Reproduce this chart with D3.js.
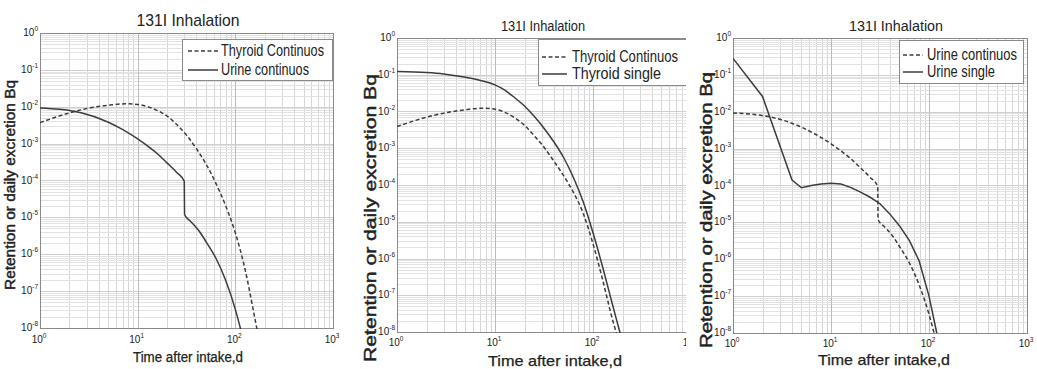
<!DOCTYPE html>
<html><head><meta charset="utf-8">
<script src="https://cdn.jsdelivr.net/npm/d3@7"></script>
<style>
html,body{margin:0;padding:0;background:#fff;}
svg{display:block;}
text{font-family:"Liberation Sans",Arial,sans-serif;fill:#222;}
</style></head>
<body>
<svg id="chart" width="1037" height="369"></svg>
<script>
// ---------- data ----------
const titleText = "131I Inhalation";
const xLabelText = "Time after intake,d";
const yLabelText = "Retention or daily excretion Bq";
const xTickValues = [1, 10, 100, 1000];
const xTickExponents = ["0", "1", "2", "3"];
const yTickValues = [1, 1e-1, 1e-2, 1e-3, 1e-4, 1e-5, 1e-6, 1e-7, 1e-8];
const yTickExponents = ["0", "-1", "-2", "-3", "-4", "-5", "-6", "-7", "-8"];

// Thyroid, continuous intake (panel 1)
const thyroidContinuousP1 = [[1,3.7e-3],[2,6.8e-3],[3,8.9e-3],[5,1.1e-2],[7.5,1.2e-2],[10,1.15e-2],[15,8.5e-3],[20,5.6e-3],[25.1,3.3e-3],[31.6,1.7e-3],[39.8,7.4e-4],[50.1,2.8e-4],[63.1,8.5e-5],[79.4,2.1e-5],[100,3.8e-6],[126,3.8e-7],[158,1.9e-8],[170,7e-9]];
// Thyroid, continuous intake (panel 2)
const thyroidContinuousP2 = [[1,3.9e-3],[2,7e-3],[3,9e-3],[5,1.12e-2],[7.5,1.23e-2],[10,1.15e-2],[12.6,9.5e-3],[15.8,6.8e-3],[20,4.2e-3],[25.1,2.2e-3],[31.6,1.07e-3],[39.8,4.5e-4],[50.1,1.8e-4],[63.1,6.3e-5],[79.4,1.7e-5],[100,2.5e-6],[126,2.5e-7],[158,2.2e-8],[174,9e-9]];
// Thyroid, single intake (panel 2)
const thyroidSingleP2 = [[1,0.123],[2,0.115],[3,0.105],[5,0.085],[7.1,0.07],[10,0.053],[12.6,0.038],[15.8,0.024],[20,1.41e-2],[25.1,7.4e-3],[31.6,3.5e-3],[39.8,1.5e-3],[50.1,5.6e-4],[63.1,1.6e-4],[79.4,3.5e-5],[100,5e-6],[126,5.6e-7],[158,5.6e-8],[186,1.1e-8],[195,7e-9]];
// Urine, continuous intake (panels 1 & 3)
const urineContinuous = [[1,9.3e-3],[1.585,8.5e-3],[2.29,7.4e-3],[3.16,6e-3],[3.98,4.9e-3],[5.01,3.8e-3],[6.31,2.8e-3],[7.94,2e-3],[10,1.35e-3],[12.6,8.7e-4],[15.8,5.4e-4],[20,3e-4],[25.1,1.66e-4],[30,9.5e-5],[30.2,1.2e-5],[35.5,7.4e-6],[42.7,4.2e-6],[50.1,2.2e-6],[63.1,7.9e-7],[79.4,2e-7],[100,3.2e-8],[115,8e-9]];
// Urine, single intake (panel 3)
const urineSingleP3 = [[1,0.28],[2,2.6e-2],[4,1.4e-4],[5,8.7e-5],[6.3,1e-4],[7.9,1.1e-4],[10,1.15e-4],[12.6,1.1e-4],[15.8,8.9e-5],[20,6.6e-5],[25.1,4.8e-5],[31.6,3.2e-5],[39.8,1.7e-5],[50.1,8e-6],[63.1,3.2e-6],[79.4,9e-7],[100,1e-7],[120,1e-8]];

const legendP1 = ["Thyroid Continuos", "Urine continuos"];
const legendP2 = ["Thyroid Continuos", "Thyroid single"];
const legendP3 = ["Urine continuos", "Urine single"];

// ---------- drawing ----------
const svg = d3.select("#chart");
const defs = svg.append("defs");
let clipId = 0;
const INK = "#3c3c3c";
const DASH = "4,2.5";

function drawPanel(cfg) {
  const g = svg.append("g");
  if (cfg.clipRight) {
    const id = "pclip" + (clipId++);
    defs.append("clipPath").attr("id", id).append("rect")
      .attr("x", cfg.clipLeft).attr("y", 0).attr("width", cfg.clipRight - cfg.clipLeft).attr("height", 369);
    g.attr("clip-path", `url(#${id})`);
  }
  const x = d3.scaleLog().domain([1, 1000]).range([cfg.left, cfg.right]);
  const y = d3.scaleLog().domain([1e-8, 1]).range([cfg.bottom, cfg.top]);

  g.append("rect").attr("x", cfg.left).attr("y", cfg.top)
    .attr("width", cfg.right - cfg.left).attr("height", cfg.bottom - cfg.top).attr("fill", "#fff");

  // grid
  const minorX = [], minorY = [];
  for (let e = 0; e < 3; e++) for (let k = 2; k <= 9; k++) minorX.push(k * Math.pow(10, e));
  for (let e = -8; e < 0; e++) for (let k = 2; k <= 9; k++) minorY.push(k * Math.pow(10, e));
  const grid = g.append("g");
  grid.selectAll(".mx").data(minorX).join("line")
    .attr("x1", d => Math.round(x(d)) + 0.5).attr("x2", d => Math.round(x(d)) + 0.5).attr("y1", cfg.top).attr("y2", cfg.bottom)
    .attr("stroke", "#d6d6d6").attr("stroke-width", 1);
  grid.selectAll(".my").data(minorY).join("line")
    .attr("y1", d => Math.round(y(d)) + 0.5).attr("y2", d => Math.round(y(d)) + 0.5).attr("x1", cfg.left).attr("x2", cfg.right)
    .attr("stroke", "#e2e2e2").attr("stroke-width", 1);
  grid.selectAll(".Mx").data(xTickValues).join("line")
    .attr("x1", d => Math.round(x(d)) + 0.5).attr("x2", d => Math.round(x(d)) + 0.5).attr("y1", cfg.top).attr("y2", cfg.bottom)
    .attr("stroke", "#bcbcbc").attr("stroke-width", 1);
  grid.selectAll(".My").data(yTickValues).join("line")
    .attr("y1", d => Math.round(y(d)) + 0.5).attr("y2", d => Math.round(y(d)) + 0.5).attr("x1", cfg.left).attr("x2", cfg.right)
    .attr("stroke", "#cfcfcf").attr("stroke-width", 1);

  g.append("rect").attr("x", cfg.left + 0.5).attr("y", cfg.top + 0.5)
    .attr("width", cfg.right - cfg.left).attr("height", cfg.bottom - cfg.top)
    .attr("fill", "none").attr("stroke", "#8a8a8a").attr("stroke-width", 1);

  // tick labels
  const xt = g.append("g");
  xTickValues.forEach((v, i) => {
    const t = xt.append("text").attr("x", x(v) - 1).attr("y", cfg.bottom + cfg.xtickDy)
      .attr("text-anchor", "middle").attr("font-size", 10);
    t.append("tspan").text("10");
    t.append("tspan").attr("dy", -5).attr("font-size", 6.5).text(xTickExponents[i]);
  });
  yTickValues.forEach((v, i) => {
    const t = xt.append("text").attr("x", cfg.left - 2).attr("y", y(v) + 3)
      .attr("text-anchor", "end").attr("font-size", 10);
    t.append("tspan").text("10");
    t.append("tspan").attr("dy", -5).attr("font-size", 6.5).text(yTickExponents[i]);
  });

  // series
  const id2 = "sclip" + (clipId++);
  defs.append("clipPath").attr("id", id2).append("rect")
    .attr("x", cfg.left).attr("y", cfg.top).attr("width", cfg.right - cfg.left).attr("height", cfg.bottom - cfg.top + 1);
  const sg = g.append("g").attr("clip-path", `url(#${id2})`);
  cfg.series.forEach(s => {
    const line = d3.line().x(d => x(d[0])).y(d => y(d[1])).curve(s.curve || d3.curveMonotoneX);
    sg.append("path").datum(s.data).attr("d", line).attr("fill", "none")
      .attr("stroke", INK).attr("stroke-width", 1.5)
      .attr("stroke-dasharray", s.dashed ? DASH : null);
  });

  // legend
  const L = cfg.legend;
  const lg = g.append("g");
  lg.append("rect").attr("x", L.x + 0.5).attr("y", L.y + 0.5).attr("width", L.w).attr("height", L.h)
    .attr("fill", "#fff").attr("stroke", "#8a8a8a").attr("stroke-width", 1);
  cfg.series.forEach((s, i) => {
    const yy = L.y + L.row0 + i * L.rowGap;
    lg.append("line").attr("x1", L.x + L.lx0).attr("x2", L.x + L.lx1).attr("y1", yy).attr("y2", yy)
      .attr("stroke", INK).attr("stroke-width", 1.5).attr("stroke-dasharray", s.dashed ? DASH : null);
    lg.append("text").attr("x", L.x + L.tx).attr("y", yy + 5).attr("font-size", L.fs)
      .attr("textLength", L.lens[i]).attr("lengthAdjust", "spacingAndGlyphs").text(s.label);
  });

  // titles & axis labels
  g.append("text").attr("x", cfg.titleX).attr("y", cfg.titleY).attr("text-anchor", "middle")
    .attr("font-size", cfg.titleFs).attr("textLength", cfg.titleLen).attr("lengthAdjust", "spacingAndGlyphs").text(titleText);
  g.append("text").attr("x", cfg.xlabX).attr("y", cfg.xlabY).attr("text-anchor", "middle")
    .attr("font-size", cfg.xlabFs).attr("stroke", "#222").attr("stroke-width", 0.25)
    .attr("textLength", cfg.xlabLen).attr("lengthAdjust", "spacingAndGlyphs").text(xLabelText);
  g.append("text").attr("transform", `translate(${cfg.ylabX},${cfg.ylabY}) rotate(-90)`)
    .attr("text-anchor", "middle").attr("font-size", cfg.ylabFs)
    .attr("stroke", "#222").attr("stroke-width", 0.45)
    .attr("textLength", cfg.ylabLen).attr("lengthAdjust", "spacingAndGlyphs").text(yLabelText);
}

drawPanel({
  left: 40, right: 333, top: 33, bottom: 328, xtickDy: 15,
  titleX: 188, titleY: 26, titleFs: 17, titleLen: 103,
  xlabX: 188, xlabY: 362, xlabFs: 14, xlabLen: 110,
  ylabX: 15, ylabY: 185, ylabFs: 15, ylabLen: 210,
  legend: {x: 182, y: 39, w: 150, h: 41, row0: 12, rowGap: 19, lx0: 6, lx1: 36, tx: 39, fs: 16, lens: [103, 88]},
  series: [
    {data: thyroidContinuousP1, dashed: true, label: legendP1[0]},
    {data: urineContinuous, dashed: false, label: legendP1[1]}
  ]
});

drawPanel({
  left: 397, right: 691, top: 38, bottom: 332, clipLeft: 340, clipRight: 686, xtickDy: 14,
  titleX: 543, titleY: 31, titleFs: 14, titleLen: 84,
  xlabX: 555, xlabY: 366, xlabFs: 15, xlabLen: 134,
  ylabX: 376, ylabY: 218, ylabFs: 17, ylabLen: 288,
  legend: {x: 538, y: 39, w: 160, h: 46, row0: 18, rowGap: 17, lx0: 4, lx1: 29, tx: 34, fs: 16, lens: [106, 89]},
  series: [
    {data: thyroidContinuousP2, dashed: true, label: legendP2[0]},
    {data: thyroidSingleP2, dashed: false, label: legendP2[1]}
  ]
});

drawPanel({
  left: 733, right: 1027, top: 38, bottom: 333, xtickDy: 14,
  titleX: 896, titleY: 31, titleFs: 14, titleLen: 94,
  xlabX: 884, xlabY: 365, xlabFs: 15, xlabLen: 132,
  ylabX: 712, ylabY: 210, ylabFs: 17, ylabLen: 276,
  legend: {x: 899, y: 40, w: 124, h: 43, row0: 15, rowGap: 17, lx0: 4, lx1: 24, tx: 28, fs: 16, lens: [90, 68]},
  series: [
    {data: urineContinuous, dashed: true, label: legendP3[0]},
    {data: urineSingleP3, dashed: false, label: legendP3[1], curve: d3.curveLinear}
  ]
});
</script>
</body></html>
